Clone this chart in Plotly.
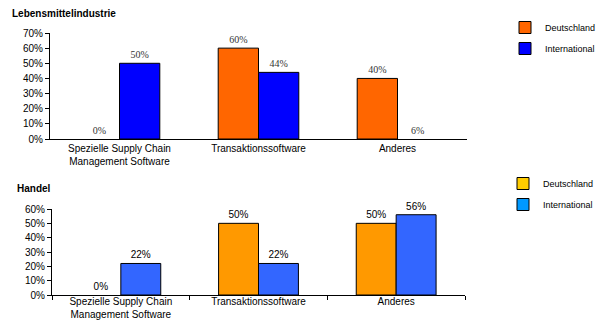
import plotly.graph_objects as go

categories = ["Spezielle Supply Chain<br>Management Software", "Transaktionssoftware", "Anderes"]
series_names = ["Deutschland", "International"]

# Lebensmittelindustrie (bar heights as drawn, plus printed labels)
food_de = [0, 60, 40]
food_int = [50, 44, 0]
food_de_labels = ["0%", "60%", "40%"]
food_int_labels = ["50%", "44%", "6%"]

# Handel
trade_de = [0, 50, 50]
trade_int = [22, 22, 56]
trade_de_labels = ["0%", "50%", "50%"]
trade_int_labels = ["22%", "22%", "56%"]

top_ticks = [0, 10, 20, 30, 40, 50, 60, 70]
bottom_ticks = [0, 10, 20, 30, 40, 50, 60]

W, H = 600, 320
SANS = "Liberation Sans, Arial, sans-serif"
SERIF = "Liberation Serif"

fig = go.Figure()

def add_bars(vals, labels, color, xa, ya, tfont, name, legend_color, legend_id, group):
    fig.add_trace(go.Bar(
        x=categories, y=vals, text=labels, textposition="outside",
        textfont=tfont, outsidetextfont=tfont, cliponaxis=False,
        marker=dict(color=color,
                    line=dict(color="#000", width=[1 if v > 0 else 0 for v in vals])),
        xaxis=xa, yaxis=ya, showlegend=False, hoverinfo="skip",
        offsetgroup=group,
    ))
    # legend entry
    fig.add_trace(go.Bar(
        x=[None], y=[None], name=name, xaxis=xa, yaxis=ya,
        marker=dict(color=legend_color, line=dict(color="#000", width=1)),
        showlegend=True, legend=legend_id, legendgroup=group,
        offsetgroup=group,
    ))

top_font = dict(family=SERIF, size=10, color="#333")
bot_font = dict(family=SANS, size=10, color="#000")

add_bars(food_de, food_de_labels, "#FF6600", "x", "y", top_font, series_names[0], "#FF6600", "legend", "a")
add_bars(food_int, food_int_labels, "#0000FF", "x", "y", top_font, series_names[1], "#0000FF", "legend", "b")
add_bars(trade_de, trade_de_labels, "#FF9900", "x2", "y2", bot_font, series_names[0], "#FFCC00", "legend2", "a")
add_bars(trade_int, trade_int_labels, "#3366FF", "x2", "y2", bot_font, series_names[1], "#0099FF", "legend2", "b")

def px_x(v):
    return v / W

def px_y(v):
    return 1 - v / H

axis_font = dict(family=SANS, size=10, color="#000")

common_x = dict(
    type="category", range=[-0.5, 2.5], showgrid=False, zeroline=False,
    showline=True, linecolor="#000", linewidth=1,
    tickfont=dict(family=SANS, size=10, color="#000"),
    tickson="boundaries", ticks="outside", ticklen=4, tickcolor="#000",
)
common_y = dict(
    showgrid=False, zeroline=False, showline=True, linecolor="#000", linewidth=1,
    ticks="outside", ticklen=4, tickcolor="#000",
    tickfont=axis_font, tickmode="array",
)

fig.update_layout(
    width=W, height=H, margin=dict(l=0, r=0, t=0, b=0, autoexpand=False),
    paper_bgcolor="white", plot_bgcolor="white",
    barmode="group", bargap=0.42, bargroupgap=0,
    font=dict(family=SANS, size=10, color="#000"),
    xaxis=dict(common_x, domain=[px_x(50), px_x(467)], anchor="y", ticks=""),
    yaxis=dict(common_y, domain=[px_y(139), px_y(33)], range=[0, 70],
               tickvals=top_ticks, ticktext=[f"{t}%" for t in top_ticks], anchor="x"),
    xaxis2=dict(common_x, domain=[px_x(52), px_x(465)], anchor="y2",
                ticklabelstandoff=-3),
    yaxis2=dict(common_y, domain=[px_y(295), px_y(209)], range=[0, 60],
                tickvals=bottom_ticks, ticktext=[f"{t}%" for t in bottom_ticks], anchor="x2"),
    legend=dict(x=px_x(505), y=px_y(13), xanchor="left", yanchor="top",
                font=dict(family=SANS, size=9, color="#000"),
                traceorder="grouped", tracegroupgap=2,
                bgcolor="rgba(0,0,0,0)", itemwidth=30),
    legend2=dict(x=px_x(503), y=px_y(169), xanchor="left", yanchor="top",
                 font=dict(family=SANS, size=9, color="#000"),
                 traceorder="grouped", tracegroupgap=2,
                 bgcolor="rgba(0,0,0,0)", itemwidth=30),
    annotations=[
        dict(text="<b>Lebensmittelindustrie</b>", x=px_x(10), y=px_y(14),
             xref="paper", yref="paper", xanchor="left", yanchor="middle",
             showarrow=False, font=dict(family=SANS, size=10, color="#000")),
        dict(text="<b>Handel</b>", x=px_x(15), y=px_y(188),
             xref="paper", yref="paper", xanchor="left", yanchor="middle",
             showarrow=False, font=dict(family=SANS, size=10, color="#000")),
    ],
)

fig.write_html("out.html")
